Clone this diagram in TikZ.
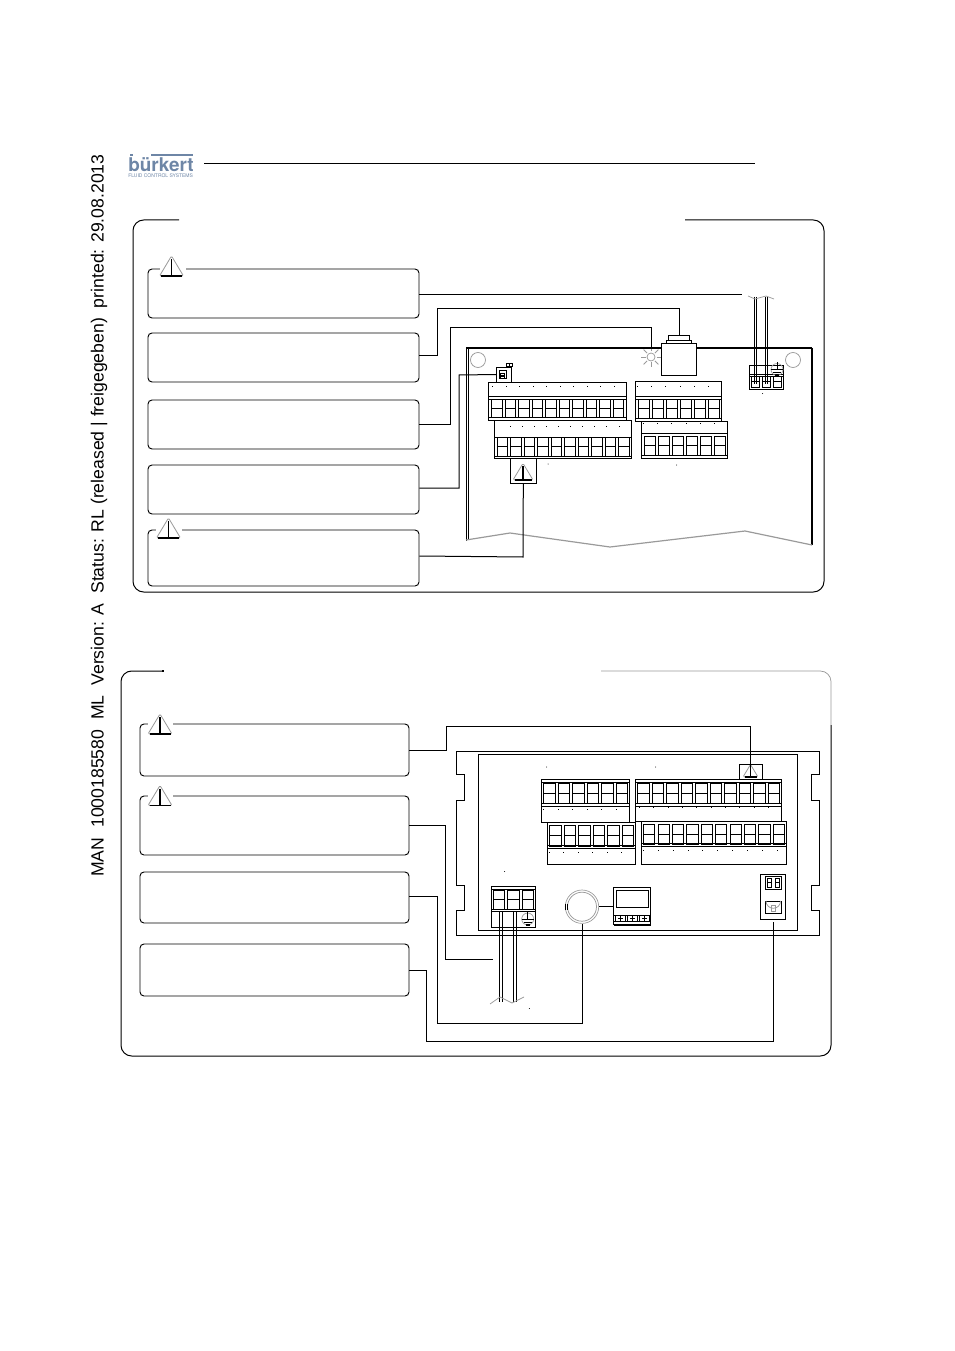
\documentclass[tikz,border=0pt]{standalone}
\usepackage{fontspec}
\setmainfont{Liberation Sans}
\newfontfamily\logofont{TeX Gyre Heros}
\definecolor{logoblue}{HTML}{6E86A6}
\definecolor{softgray}{HTML}{9A9A9A}
\newcommand{\cellrow}[5]{% x0 x1 ytop ybot n
  \pgfmathsetmacro{\cellpitch}{(#2-#1)/#5}
  \pgfmathsetmacro{\cellw}{\cellpitch*0.78}
  \pgfmathsetmacro{\cellmid}{(#3+#4)/2}
  \pgfmathtruncatemacro{\celllast}{#5-1}
  \foreach \ci in {0,...,\celllast}{
    \pgfmathsetmacro{\cella}{#1+\ci*\cellpitch+(\cellpitch-\cellw)/2}
    \pgfmathsetmacro{\cellb}{\cella+\cellw}
    \draw[thinline] (\cella,#3) rectangle (\cellb,#4);
    \draw[thinline] (\cella,\cellmid) -- (\cellb,\cellmid);
  }}
\newcommand{\dotrow}[5]{% x0 x1 y n (unused)
  \pgfmathsetmacro{\dotpitch}{(#2-#1)/(#4-1)}
  \pgfmathtruncatemacro{\dotlast}{#4-1}
  \foreach \di in {0,...,\dotlast}{
    \pgfmathsetmacro{\dotx}{#1+\di*\dotpitch}
    \fill (\dotx-0.5,#3-0.5) rectangle (\dotx+0.5,#3+0.5);
  }}
\newcommand{\warntri}[3]{% cx base-y half-width
  \fill[white] (#1-#3,#2) -- (#1,#2-1.67*#3) -- (#1+#3,#2) -- cycle;
  \draw[softgray,line width=0.6pt,rounded corners=1pt] (#1-#3,#2) -- (#1,#2-1.67*#3) -- (#1+#3,#2) -- cycle;
  \draw[black,line width=0.9pt] (#1-#3+1.5,#2) -- (#1+#3-1.5,#2);
  \draw[black,line width=0.8pt] (#1,#2-1.4*#3) -- (#1,#2-1);
}
\newcommand{\groundmark}[2]{%
  \draw[softgray,line width=0.5pt] (#1,#2) circle (6);
  \draw[thinline] (#1,#2-7) -- (#1,#2);
  \draw[thinline] (#1-6,#2) -- (#1+6,#2);
  \draw[thinline] (#1-4,#2+3) -- (#1+4,#2+3);
  \draw[black,line width=1pt] (#1-2,#2+6) -- (#1+2,#2+6);
}
\tikzset{
  thinline/.style={black,line width=0.55pt},
  mainline/.style={black,line width=0.75pt},
  heavyline/.style={black,line width=1.4pt},
  faint/.style={softgray,line width=0.55pt},
  infobox/.style={draw=black,line width=0.7pt,rounded corners=3pt,fill=white,inner sep=0pt},
  wire/.style={black,line width=0.75pt},
  gapline/.style={white,line width=1.4pt},
}
\begin{document}
\begin{tikzpicture}[x=0.75pt,y=-0.75pt]
\useasboundingbox (0,0) rectangle (954,1351);
% side text
\node[rotate=90,anchor=west,inner sep=0pt,font=\fontsize{13.23}{15}\selectfont] (sidetext) at (99,877)
  {MAN\ \ 1000185580\ \ ML\ \ Version: A\ \ Status: RL (released | freigegeben)\ \ printed: 29.08.2013};
% logo
\node[anchor=base west,inner sep=0pt,text=logoblue,font=\logofont\bfseries\fontsize{14.2}{15}\selectfont] (logo) at (128,171.5) {bürkert};
\fill[logoblue] (151,154) rectangle (193,156);
\fill[logoblue] (129.5,154.3) rectangle (133,156);
\node[anchor=west,inner sep=0pt,text=logoblue,font=\logofont\fontsize{3.75}{4}\selectfont] (logosub) at (128,176) {FLUID CONTROL SYSTEMS};
\coordinate (hla) at (204,163); \coordinate (hlb) at (755,163);
\draw[thinline] (hla) -- (hlb);
% top panel
\draw[mainline,rounded corners=8pt] (179,220) -- (133,220) -- (133,592) -- (824,592) -- (824,220) -- (685,220);
% top info boxes
\node[infobox,minimum width=271*0.75pt,minimum height=49*0.75pt] (b1) at (283.5,293.5) {};
\node[infobox,minimum width=271*0.75pt,minimum height=49*0.75pt] (b2) at (283.5,357.5) {};
\node[infobox,minimum width=271*0.75pt,minimum height=49*0.75pt] (b3) at (283.5,424.5) {};
\node[infobox,minimum width=271*0.75pt,minimum height=49*0.75pt] (b4) at (283.5,489.5) {};
\node[infobox,minimum width=271*0.75pt,minimum height=56*0.75pt] (b5) at (283.5,558) {};
\draw[gapline] (160,269) -- (186,269);
\draw[gapline] (156,530) -- (182,530);
\warntri{171.5}{276}{12}
\warntri{168.5}{538}{12}
% top device
\draw[mainline] (466,348) -- (466,541);
\draw[thinline] (468.5,349) -- (468.5,540);
\draw[heavyline] (466,348) -- (661,348);
\draw[heavyline] (697,348) -- (812,348);
\draw[heavyline] (812,348) -- (812,545);
\draw[faint,line width=0.9pt] (466,540) -- (510,533) -- (610,547) -- (745,531) -- (812,545);
\draw[faint] (478,360) circle (7.5);
\draw[faint] (793,360) circle (7.5);
\draw[faint] (651,357) circle (4);
\foreach \sa in {0,45,...,315}{\draw[faint] (651,357) ++(\sa:5.5) -- ++(\sa:5);}
% solenoid
\node[draw=black,line width=0.7pt,inner sep=0pt,minimum width=35*0.75pt,minimum height=32*0.75pt,fill=white] (sol) at (679,359) {};
\draw[thinline] (666,343) rectangle (691,340);
\draw[thinline] (668,340) rectangle (689.5,335);
% jumper
\node[draw=black,line width=0.7pt,inner sep=0pt,minimum width=15*0.75pt,minimum height=15*0.75pt] (jump) at (504,374.5) {};
\draw[mainline] (499,371) rectangle (506,379);
\draw[thinline] (500.5,373) rectangle (504.5,375);
\draw[thinline] (500.5,376) rectangle (504.5,378);
\draw[thinline] (506.5,363.5) rectangle (512.5,366.5);
\draw[thinline] (509.5,363.5) -- (509.5,366.5);
% top terminal blocks
\draw[mainline] (488.3,382.3) rectangle (626.3,420.3);
\draw[mainline] (488.3,396.3) -- (626.3,396.3);
\draw[thinline] (488.3,399) -- (626.3,399);
\draw[thinline] (488.3,417.3) -- (626.3,417.3);
\cellrow{490}{625}{399.3}{417.3}{10}
\dotrow{492.5}{614.5}{386.5}{10}{}
\draw[mainline,fill=white] (494.3,420.3) rectangle (631.3,458.3);
\draw[mainline] (494.3,437.3) -- (631.3,437.3);
\draw[thinline] (494.3,456.2) -- (631.3,456.2);
\cellrow{495.5}{630.5}{437.5}{456}{10}
\dotrow{510}{619}{426.5}{10}{}
\draw[mainline] (635.7,381.3) rectangle (721.7,421.3);
\draw[mainline] (635.7,396.3) -- (721.7,396.3);
\draw[thinline] (635.7,399) -- (721.7,399);
\draw[thinline] (635.7,418) -- (721.7,418);
\cellrow{636.5}{720.5}{399.3}{418}{6}
\dotrow{637.5}{708.5}{386.5}{6}{}
\draw[mainline,fill=white] (641.3,421.3) rectangle (727.3,458.3);
\draw[mainline] (641.3,433.7) -- (727.3,433.7);
\draw[thinline] (641.3,455.8) -- (727.3,455.8);
\cellrow{642.5}{726.5}{436}{455.5}{6}
\dotrow{643.5}{714.5}{423.5}{6}{}
\fill (548,464) circle (0.5); \fill (676.5,465) circle (0.5);
% warning box on block
\node[draw=black,line width=0.7pt,inner sep=0pt,minimum width=26*0.75pt,minimum height=25*0.75pt] (wb1) at (523.3,470.8) {};
\warntri{523}{480}{10}
% mains block
\draw[mainline] (749.3,365.3) rectangle (783.3,389.3);
\draw[mainline] (749.3,374.3) -- (783.3,374.3);
\draw[thinline] (749.3,376) -- (783.3,376);
\cellrow{750}{783}{376.7}{387}{3}
\groundmark{777}{369.5}
\fill (762.5,393.5) circle (0.5);
\draw[thinline] (754.3,297) -- (754.3,384) (756.5,297) -- (756.5,384);
\draw[thinline] (765,297) -- (765,384) (767.3,297) -- (767.3,384);
\draw[faint] (748,296) -- (755,299) -- (766,296) -- (774,299);
% top connectors
\coordinate (c1) at (742,295);
\draw[wire] (b1.east |- c1) -- (c1);
\coordinate (c2) at (679,335);
\draw[wire] (b2.east) ++(0,-1.5) -- (437,356) -- (437,309) -- (679,309) -- (c2);
\coordinate (c3) at (651,349);
\draw[wire] (b3.east) -- (450,424.5) -- (450,328) -- (651,328) -- (c3);
\draw[wire] (b4.east |- 0,488) -- (459,488) -- (459,375) -- (jump.west);
\draw[wire] (b5.east |- 0,556) -- (523,557) -- (wb1.south);
% bottom panel
\draw[mainline,rounded corners=8pt] (163,671) -- (121,671) -- (121,1056) -- (831,1056) -- (831,725);
\draw[faint,rounded corners=8pt] (831,725) -- (831,671) -- (601,671);
\fill (161.5,670) rectangle (164,672);
% bottom info boxes
\node[infobox,minimum width=269*0.75pt,minimum height=52*0.75pt] (d1) at (274.5,750) {};
\node[infobox,minimum width=269*0.75pt,minimum height=59*0.75pt] (d2) at (274.5,825.5) {};
\node[infobox,minimum width=269*0.75pt,minimum height=51*0.75pt] (d3) at (274.5,897.5) {};
\node[infobox,minimum width=269*0.75pt,minimum height=52*0.75pt] (d4) at (274.5,970) {};
\draw[gapline] (148,724) -- (173,724);
\draw[gapline] (148,796) -- (173,796);
\warntri{160}{734}{12}
\warntri{160}{805.5}{12}
% bottom device
\draw[mainline] (456,751) -- (819.5,751) -- (819.5,774) -- (811,774) -- (811,800) -- (819.5,800) -- (819.5,885) -- (811,885) -- (811,910) -- (819.5,910) -- (819.5,935) -- (456,935) -- (456,910) -- (464.5,910) -- (464.5,885) -- (456,885) -- (456,800) -- (464.5,800) -- (464.5,774) -- (456,774) -- cycle;
\node[draw=black,line width=0.75pt,fill=white,inner sep=0pt,minimum width=319*0.75pt,minimum height=176*0.75pt] (inner) at (637.5,842) {};
% bottom terminal blocks
\draw[mainline] (541.3,779.3) rectangle (629.7,822.3);
\draw[mainline] (541.3,782.7) -- (629.7,782.7);
\draw[mainline] (541.3,803.3) -- (629.7,803.3);
\draw[thinline] (541.3,806) -- (629.7,806);
\cellrow{542}{629}{783}{803}{6}
\dotrow{543.5}{616}{809}{6}{}
\draw[mainline] (635.3,779.3) rectangle (781.7,821.7);
\draw[mainline] (635.3,782.7) -- (781.7,782.7);
\draw[mainline] (635.3,803.3) -- (781.7,803.3);
\draw[thinline] (635.3,806) -- (781.7,806);
\cellrow{636}{781}{783}{803}{10}
\dotrow{639.5}{768.5}{807.5}{10}{}
\draw[mainline,fill=white] (547.3,822.3) rectangle (635.3,864.3);
\draw[mainline] (547.3,848) -- (635.3,848);
\draw[thinline] (547.3,845.5) -- (635.3,845.5);
\cellrow{548}{635}{825}{846}{6}
\dotrow{549.5}{621.5}{852.5}{6}{}
\draw[mainline,fill=white] (641.3,821.3) rectangle (786.7,864.3);
\draw[mainline] (641.3,846) -- (786.7,846);
\draw[thinline] (641.3,843.5) -- (786.7,843.5);
\cellrow{642}{786}{824.5}{844}{10}
\dotrow{643.5}{777}{850}{10}{}
\fill (546.5,767) circle (0.5); \fill (655.5,767) circle (0.5);
% warning box bottom
\node[draw=black,line width=0.7pt,inner sep=0pt,minimum width=23*0.75pt,minimum height=15*0.75pt] (wb2) at (750.5,771.8) {};
\warntri{750.5}{777}{7.5}
% power block
\fill (504.5,871.5) circle (0.5);
\draw[mainline] (491,886.3) rectangle (535.7,927.3);
\draw[mainline] (491,889.7) -- (535.7,889.7);
\draw[mainline] (491,909.3) -- (535.7,909.3);
\draw[thinline] (491,911.7) -- (535.7,911.7);
\cellrow{491.5}{535}{889.9}{909.2}{3}
\groundmark{527.7}{919}
\draw[thinline] (499.3,911.7) -- (499.3,1002) (502.3,911.7) -- (502.3,1002);
\draw[thinline] (513.3,911.7) -- (513.3,1002) (516.7,911.7) -- (516.7,1002);
\draw[faint] (490,1004) -- (500,997) -- (512,1003) -- (524,997);
\fill (529.3,1008.5) circle (0.5);
% sensor circle and display
\node[circle,draw=softgray,line width=0.5pt,inner sep=0pt,minimum size=33.4*0.75pt] (sens) at (582,906.7) {};
\draw[faint] (582,906.7) circle (14.5);
\draw[thinline] (565.3,903.5) -- (565.3,910) (567.3,903.5) -- (567.3,910);
\node[draw=black,line width=0.7pt,inner sep=0pt,minimum width=36.7*0.75pt,minimum height=37.3*0.75pt] (disp) at (632.3,906.3) {};
\draw[thinline] (616.3,890.3) rectangle (648,907.7);
\draw[thinline] (614,915) -- (650.7,915);
\draw[thinline] (614,921.7) -- (650.7,921.7);
\draw[thinline] (614,925.7) -- (650.7,925.7);
\foreach \bx in {620.3,632.3,644.3}{
  \draw[thinline] (\bx-4.8,915) rectangle (\bx+4.8,921.7);
  \draw[thinline] (\bx-2.5,918.3) -- (\bx+2.5,918.3);
  \draw[thinline] (\bx,916) -- (\bx,920.7);
}
\draw[thinline] (sens.east) -- (disp.west |- sens.east);
% lock
\node[draw=black,line width=0.7pt,inner sep=0pt,minimum width=25.3*0.75pt,minimum height=45.3*0.75pt] (lock) at (773,897) {};
\draw[mainline] (765.3,876.7) rectangle (781.3,889.3);
\draw[thinline] (767.7,878.7) rectangle (771.7,887.3);
\draw[thinline] (767.7,882) -- (771.7,882);
\draw[thinline] (775.3,878.7) rectangle (779.3,887.3);
\draw[thinline] (775.3,882) -- (779.3,882);
\draw[mainline] (765.3,901) rectangle (781.3,913.7);
\draw[faint] (766,901) arc[start angle=180,end angle=0,radius=7.3];
\draw[faint] (771.5,905) rectangle (775,911);
% bottom connectors
\coordinate (e1) at (750,777);
\draw[wire] (d1.east) -- (446,750) -- (446,726) -- (750,726) -- (e1);
\coordinate (e2) at (493,959);
\draw[wire] (d2.east) -- (445,825.5) -- (445,959) -- (e2);
\draw[wire] (d3.east |- 0,896) -- (437,896) -- (437,1023) -- (582,1023) -- (sens.south);
\coordinate (e4) at (773,922);
\draw[wire] (d4.east) -- (426,970) -- (426,1041) -- (773,1041) -- (e4);
\end{tikzpicture}
\end{document}
